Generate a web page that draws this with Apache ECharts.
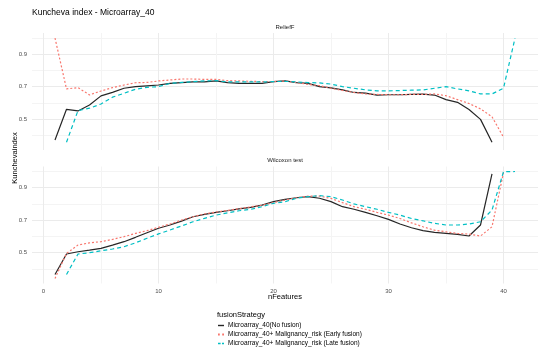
<!DOCTYPE html>
<html><head><meta charset="utf-8">
<script src="https://cdn.jsdelivr.net/npm/echarts@6/dist/echarts.min.js"></script>
<style>html,body{margin:0;padding:0;background:#fff}#c{width:550px;height:351px}</style>
</head><body><div id="c"></div>
<script>
const nFeatures = [1,2,3,4,5,6,7,8,9,10,11,12,13,14,15,16,17,18,19,20,21,22,23,24,25,26,27,28,29,30,31,32,33,34,35,36,37,38,39,40,41];
const panels = ['ReliefF', 'Wilcoxon test'];
const strategies = ['Microarray_40(No fusion)', 'Microarray_40+ Malignancy_risk (Early fusion)', 'Microarray_40+ Malignancy_risk (Late fusion)'];
const xTicks = [0,5,10,15,20,25,30,35,40];
const xLabels = [0,10,20,30,40];
const yTicks = [0.4,0.5,0.6,0.7,0.8,0.9,1.0];
const yLabels = [0.5,0.7,0.9];

const reliefNone = [0.371,0.56,0.55,0.587,0.643,0.665,0.69,0.70,0.705,0.71,0.72,0.725,0.73,0.73,0.735,0.725,0.72,0.72,0.72,0.731,0.735,0.725,0.72,0.70,0.692,0.68,0.664,0.66,0.648,0.65,0.65,0.652,0.654,0.648,0.62,0.603,0.559,0.498,0.357,null,null];
const reliefEarly = [1.0,0.686,0.694,0.649,0.673,0.694,0.71,0.724,0.726,0.735,0.741,0.747,0.747,0.745,0.745,0.737,0.735,0.733,0.731,0.731,0.735,0.725,0.714,0.706,0.69,0.676,0.664,0.655,0.652,0.65,0.65,0.652,0.652,0.655,0.644,0.62,0.596,0.563,0.514,0.388,null];
const reliefLate = [null,0.357,0.552,0.567,0.593,0.635,0.659,0.684,0.696,0.70,0.72,0.726,0.731,0.735,0.737,0.729,0.729,0.729,0.729,0.731,0.733,0.729,0.725,0.723,0.716,0.70,0.69,0.68,0.674,0.674,0.676,0.678,0.68,0.69,0.70,0.686,0.674,0.655,0.655,0.69,0.999];
const wilcoxNone = [0.365,0.491,0.505,0.515,0.526,0.546,0.567,0.594,0.622,0.65,0.67,0.694,0.721,0.736,0.748,0.758,0.769,0.779,0.793,0.814,0.828,0.838,0.845,0.835,0.814,0.783,0.767,0.748,0.727,0.705,0.676,0.653,0.635,0.624,0.618,0.612,0.602,0.67,0.985,null,null];
const wilcoxEarly = [0.34,0.495,0.546,0.56,0.567,0.581,0.598,0.618,0.635,0.656,0.676,0.70,0.721,0.738,0.75,0.76,0.771,0.782,0.792,0.808,0.824,0.838,0.848,0.848,0.834,0.808,0.783,0.767,0.748,0.731,0.71,0.683,0.659,0.638,0.628,0.618,0.614,0.602,0.659,0.993,null];
const wilcoxLate = [null,0.365,0.491,0.499,0.511,0.522,0.536,0.56,0.588,0.615,0.639,0.664,0.69,0.711,0.731,0.745,0.758,0.766,0.783,0.804,0.814,0.835,0.845,0.851,0.845,0.824,0.80,0.783,0.767,0.748,0.731,0.71,0.696,0.68,0.67,0.67,0.676,0.69,0.762,0.999,1.0];

const panelData = [[reliefNone, reliefEarly, reliefLate],[wilcoxNone, wilcoxEarly, wilcoxLate]];
const colors = ['#262626', '#F8766D', '#00BFC4'];
const dashes = ['solid', [2,2], [4,3]];
const legendIcons = [
  'path://M0,0h6v1.4h-6z',
  'path://M0,0h1.8v1.8h-1.8zM4.2,0h1.8v1.8h-1.8z',
  'path://M0,0h2.6v1.4h-2.6zM4,0h2v1.4h-2z'
];
const FONT = 'Liberation Sans';

const chart = echarts.init(document.getElementById('c'), null, {renderer:'canvas'});
const grids = [{left:32, right:12, top:33, height:117}, {left:32, right:12, top:166.5, height:117}];
const xAxes = [], yAxes = [], series = [];
for (let p = 0; p < 2; p++) {
  xAxes.push({
    type:'value', gridIndex:p, min:-1, max:43,
    axisLine:{show:false}, axisTick:{show:false, customValues:xTicks},
    axisLabel:{show:p===1, customValues:xLabels, fontSize:6, color:'#4d4d4d', fontFamily:FONT, margin:5},
    splitLine:{show:true, lineStyle:{color:['#ebebeb','#f4f4f4'], width:1}}
  });
  yAxes.push({
    type:'value', gridIndex:p, min:0.309, max:1.031,
    axisLine:{show:false}, axisTick:{show:false, customValues:yTicks},
    axisLabel:{customValues:yLabels, fontSize:6, color:'#4d4d4d', fontFamily:FONT, margin:5, formatter:v=>v.toFixed(1)},
    splitLine:{show:true, lineStyle:{color:['#f4f4f4','#ebebeb'], width:1}}
  });
  for (let s = 0; s < 3; s++) {
    const vals = panelData[p][s];
    const pts = [];
    for (let i = 0; i < nFeatures.length; i++) if (vals[i] != null) pts.push([nFeatures[i], vals[i]]);
    series.push({
      type:'line', name:strategies[s], xAxisIndex:p, yAxisIndex:p, data:pts,
      showSymbol:false, symbol:'none', animation:false, silent:true,
      lineStyle:{color:colors[s], width:1.2, type:dashes[s]}, itemStyle:{color:colors[s]}
    });
  }
}
chart.setOption({
  backgroundColor:'#fff', animation:false,
  grid:grids, xAxis:xAxes, yAxis:yAxes, series:series,
  legend:{
    show:true, orient:'vertical', left:218, top:322, itemWidth:6, itemHeight:6, itemGap:2, padding:0,
    data:strategies.map((n,i)=>({name:n, icon:legendIcons[i],
      itemStyle:{color:colors[i], borderWidth:0, opacity:1},
      lineStyle:{width:0, opacity:0}})),
    selectedMode:false,
    textStyle:{fontSize:6.5, lineHeight:6, color:'#000', fontFamily:FONT, padding:[0,0,0,-1]}
  },
  graphic:[
    {type:'text', x:32, y:13, style:{text:'Kuncheva index - Microarray_40', fontSize:8.5, fill:'#000', fontFamily:FONT, verticalAlign:'middle'}},
    {type:'text', x:285, y:27, style:{text:panels[0], fontSize:6, fill:'#1a1a1a', fontFamily:FONT, align:'center', verticalAlign:'middle'}},
    {type:'text', x:285, y:160, style:{text:panels[1], fontSize:6, fill:'#1a1a1a', fontFamily:FONT, align:'center', verticalAlign:'middle'}},
    {type:'text', x:285, y:297, style:{text:'nFeatures', fontSize:7.5, fill:'#000', fontFamily:FONT, align:'center', verticalAlign:'middle'}},
    {type:'text', x:217, y:315, style:{text:'fusionStrategy', fontSize:7.5, fill:'#000', fontFamily:FONT, verticalAlign:'middle'}},
    {type:'text', x:15, y:158, rotation:Math.PI/2, style:{text:'Kunchevaindex', fontSize:7.5, fill:'#000', fontFamily:FONT, align:'center', verticalAlign:'middle'}}
  ]
});
</script></body></html>
